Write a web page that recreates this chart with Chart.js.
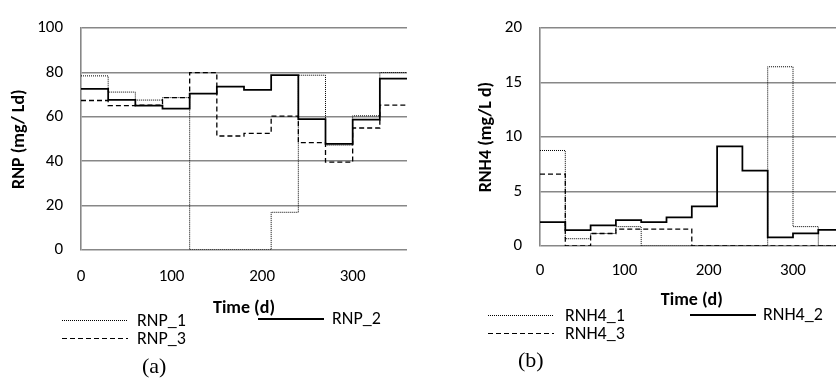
<!DOCTYPE html>
<html>
<head>
<meta charset="utf-8">
<script src="https://cdn.jsdelivr.net/npm/chart.js@4"></script>
<style>
    html, body { margin: 0; padding: 0; background: #fff; }
    body { width: 836px; height: 378px; overflow: hidden; position: relative; font-family: Carlito, Calibri, Lato, sans-serif; }
    .box { position: absolute; top: 0; }
    .leg { position: absolute; font-size: 18px; color: #000; line-height: 20px; white-space: nowrap; }
    .leg .ln { position: absolute; left: 0; top: 10px; width: 66px; }
    .leg .tx { position: absolute; top: 0; }
    .dot { height: 1px; background: repeating-linear-gradient(to right, #000 0 1px, transparent 1px 2px); }
    .dash { height: 1px; background: repeating-linear-gradient(to right, #000 0 5px, transparent 5px 8px); }
    .solid { height: 1.75px; background: #000; }
    .cap { position: absolute; font-family: "Liberation Serif", serif; font-size: 22px; line-height: 22px; }
</style>
</head>
<body>
<div class="box" style="left:0; width:420px; height:320px;"><canvas id="rnpChart" width="420" height="320"></canvas></div>
<div class="box" style="left:420px; width:440px; height:320px;"><canvas id="rnh4Chart" width="440" height="320"></canvas></div>

<!-- leyendas (a) -->
<div class="leg" style="left:62px; top:310px;"><div class="ln dot"></div><span class="tx" style="left:75px;">RNP_1</span></div>
<div class="leg" style="left:62px; top:328px;"><div class="ln dash"></div><span class="tx" style="left:75px;">RNP_3</span></div>
<div class="leg" style="left:258px; top:308px;"><div class="ln solid"></div><span class="tx" style="left:74px;">RNP_2</span></div>
<div class="cap" style="left:142px; top:355px;">(a)</div>

<!-- leyendas (b) -->
<div class="leg" style="left:488px; top:305px;"><div class="ln dot"></div><span class="tx" style="left:77px;">RNH4_1</span></div>
<div class="leg" style="left:488px; top:323px;"><div class="ln dash"></div><span class="tx" style="left:77px;">RNH4_3</span></div>
<div class="leg" style="left:690px; top:304px;"><div class="ln solid"></div><span class="tx" style="left:73px;">RNH4_2</span></div>
<div class="cap" style="left:518px; top:349px;">(b)</div>

<script>
// bordes de los intervalos (d)
const days = [0, 30, 60, 90, 120, 150, 180, 210, 240, 270, 300, 330, 360];

// RNP (mg/ Ld)
const rnp1 = [78.5, 71.2, 67.6, 68.7, 0, 0, 0, 17.0, 78.8, 47.3, 60.5, 80.0];
const rnp2 = [72.6, 67.7, 65.1, 63.7, 70.5, 73.7, 72.2, 78.8, 59.0, 47.9, 58.8, 77.3];
const rnp3 = [67.4, 65.1, 65.3, 68.7, 80.0, 51.4, 52.6, 60.4, 48.4, 39.6, 55.0, 65.3];

// RNH4 (mg/L d)
const rnh1 = [8.77, 0.67, 1.15, 1.78, 0, 0, 0, 0, 0, 16.46, 1.78, 0];
const rnh2 = [2.19, 1.46, 1.9, 2.37, 2.19, 2.63, 3.65, 9.15, 6.93, 0.79, 1.17, 1.49];
const rnh3 = [6.6, 0, 1.15, 1.55, 1.55, 1.55, 0, 0, 0, 0, 0, 0];

const xTicks = [0, 100, 200, 300];

Chart.defaults.font.family = 'Carlito, Calibri, Lato, sans-serif';
Chart.defaults.font.size = 17;
Chart.defaults.color = '#000';

const gridColor = '#878787';

function steps(values) {
    const pts = values.map((v, i) => ({ x: days[i], y: v }));
    pts.push({ x: days[values.length], y: values[values.length - 1] });
    return pts;
}

function makeChart(id, opts) {
    const ctx = document.getElementById(id);
    new Chart(ctx.getContext('2d'), {
        type: 'line',
        data: {
            datasets: [
                { label: opts.names[0], data: steps(opts.series[0]), borderColor: '#000', borderWidth: 1, borderDash: [1, 1] },
                { label: opts.names[1], data: steps(opts.series[1]), borderColor: '#000', borderWidth: 1.75 },
                { label: opts.names[2], data: steps(opts.series[2]), borderColor: '#000', borderWidth: 1.3, borderDash: [5, 3] }
            ]
        },
        options: {
            responsive: false,
            animation: false,
            elements: { point: { radius: 0 }, line: { stepped: true, borderCapStyle: 'butt' } },
            layout: { padding: { top: opts.top, right: opts.right, bottom: 0, left: 0 } },
            plugins: { legend: { display: false }, tooltip: { enabled: false } },
            scales: {
                x: {
                    type: 'linear',
                    min: 0,
                    max: 360,
                    grid: { display: false, drawTicks: false },
                    border: { display: false },
                    ticks: { stepSize: 100, padding: opts.xPad },
                    afterBuildTicks: function (scale) {
                        scale.ticks = xTicks.map(v => ({ value: v }));
                    },
                    afterFit: function (scale) {
                        scale.height = opts.height - opts.bottom;
                    },
                    title: {
                        display: true,
                        text: 'Time (d)',
                        font: { weight: 'bold', size: 18 },
                        padding: { top: 0, bottom: opts.titlePad }
                    }
                },
                y: {
                    min: 0,
                    max: opts.yMax,
                    grid: { color: gridColor, lineWidth: 1.6, drawTicks: false },
                    border: { display: true, color: gridColor, width: 1.6 },
                    ticks: { stepSize: opts.yStep, padding: 18 },
                    afterFit: function (scale) {
                        scale.width = opts.axisX;
                    },
                    title: {
                        display: true,
                        text: opts.yTitle,
                        font: { weight: 'bold', size: 18 },
                        padding: { top: opts.yTitlePad, bottom: 0 }
                    }
                }
            }
        }
    });
}

document.addEventListener('DOMContentLoaded', function () {
    makeChart('rnpChart', {
        names: ['RNP_1', 'RNP_2', 'RNP_3'],
        series: [rnp1, rnp2, rnp3],
        yMax: 100, yStep: 20, yTitle: 'RNP (mg/ Ld)',
        top: 16, bottom: 250, height: 320, right: 13, axisX: 81,
        xPad: 16.8, titlePad: 0.5, yTitlePad: 8.2
    });
    makeChart('rnh4Chart', {
        names: ['RNH4_1', 'RNH4_2', 'RNH4_3'],
        series: [rnh1, rnh2, rnh3],
        yMax: 20, yStep: 5, yTitle: 'RNH4 (mg/L d)',
        top: 18, bottom: 246, height: 320, right: 16.4, axisX: 120,
        xPad: 14.8, titlePad: 9.2, yTitlePad: 55.2
    });
});
</script>
</body>
</html>
